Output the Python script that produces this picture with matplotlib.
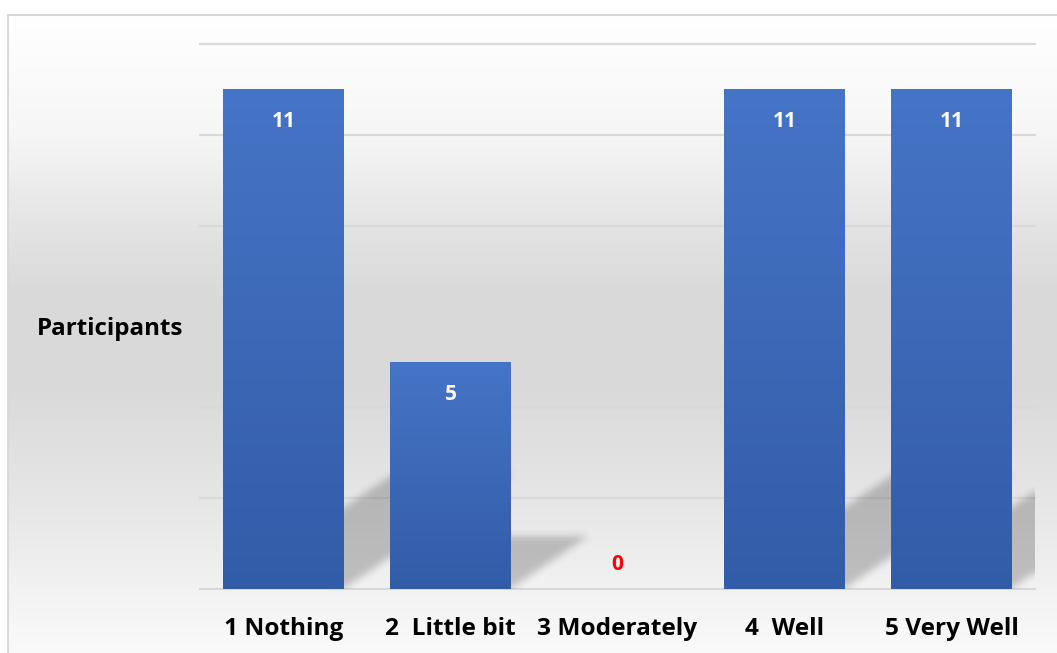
import numpy as np
import matplotlib
matplotlib.use('Agg')
import matplotlib.pyplot as plt
from matplotlib.colors import LinearSegmentedColormap
from matplotlib.path import Path
from matplotlib.patches import Rectangle

# ---------------- data ----------------
categories = ['1 Nothing', '2  Little bit', '3 Moderately', '4  Well', '5 Very Well']
participants = [11, 5, 0, 11, 11]
y_ticks = [0, 2, 4, 6, 8, 10, 12]
y_label = 'Participants'

plt.rcParams['font.family'] = ['Open Sans', 'DejaVu Sans']

W, H = 1057, 653
fig = plt.figure(figsize=(W / 100, H / 100), dpi=100)
fig.patch.set_facecolor('white')

# ---------------- background panel (vertical gradient) ----------------
bg_left, bg_top = 8 / W, 1 - 15 / H
bg_ax = fig.add_axes([bg_left, 0, 1 - bg_left + 0.01, bg_top], zorder=0)
stops_px = [15, 135, 225, 290, 380, 430, 540, 589, 653]
stop_vals = [255, 246, 228, 218, 217, 222, 235, 242, 250]
rows = np.arange(15, 653)
g = np.interp(rows, stops_px, stop_vals) / 255.0
g = np.repeat(g[:, None], 4, axis=1)
bg_ax.imshow(np.dstack([g, g, g]), aspect='auto', extent=[0, 1, 0, 1],
             interpolation='bilinear')
bg_ax.axis('off')
fig.patches.append(Rectangle((bg_left, -0.1), 1.0, bg_top + 0.1, transform=fig.transFigure,
                             fill=False, edgecolor='#d9d9d9', linewidth=1.5, zorder=1))

# ---------------- main axes ----------------
ax = fig.add_axes([200 / W, (H - 589) / H, 835 / W, 545 / H], zorder=2)
ax.patch.set_visible(False)
for s in ax.spines.values():
    s.set_visible(False)

x = np.arange(len(categories))
for yt in y_ticks:
    ax.axhline(yt, color='#d9d9d9', linewidth=1.5, zorder=1, clip_on=False)

bars = ax.bar(x, participants, width=0.72, color='#4472c4', zorder=3)

# bar gradients
bar_cmap = LinearSegmentedColormap.from_list('bar', ['#335ca8', '#4674c6'])
grad = np.linspace(1, 0, 256)[:, None]
for b, v in zip(bars, participants):
    if v <= 0:
        continue
    x0 = b.get_x()
    x1 = x0 + b.get_width()
    im = ax.imshow(grad, cmap=bar_cmap, aspect='auto', extent=[x0, x1, 0, v],
                   zorder=3.5, interpolation='bilinear')
    im.set_clip_path(b)

# cast shadows
nx, ny = 835, 545
xs = np.linspace(-0.5, 4.5, nx)
ys = np.linspace(12, 0, ny)
XX, YY = np.meshgrid(xs, ys)
pts = np.column_stack([XX.ravel(), YY.ravel()])
mask = np.zeros(nx * ny)
for b, v in zip(bars, participants):
    if v <= 0:
        continue
    x0 = b.get_x()
    x1 = x0 + b.get_width()
    dx = 0.0925 * v
    dy = 0.23 * v
    path = Path([(x0, 0), (x1, 0), (x1 + dx, dy), (x0 + dx, dy), (x0, 0)])
    mask = np.maximum(mask, path.contains_points(pts).astype(float))
mask = mask.reshape(ny, nx)


def box_blur(a, r, axis):
    k = 2 * r + 1
    pw = [(0, 0), (0, 0)]
    pw[axis] = (r + 1, r)
    p = np.pad(a, pw, mode='edge')
    c = np.cumsum(p, axis=axis)
    if axis == 0:
        return (c[k:] - c[:-k]) / k
    return (c[:, k:] - c[:, :-k]) / k


for _ in range(2):
    mask = box_blur(mask, 4, 0)
    mask = box_blur(mask, 4, 1)

rgba = np.zeros((ny, nx, 4))
rgba[..., 3] = 0.21 * mask
ax.imshow(rgba, extent=(-0.5, 4.5, 0, 12), aspect='auto', zorder=2,
          interpolation='nearest')

# value labels
for b, v in zip(bars, participants):
    cx = b.get_x() + b.get_width() / 2
    if v > 0:
        ax.annotate(str(v), (cx, v), xytext=(0, -27.4), textcoords='offset points',
                    ha='center', va='baseline', color='white', fontsize=15,
                    fontweight='bold', zorder=5)
    else:
        ax.annotate(str(v), (cx, v), xytext=(0, 13.7), textcoords='offset points',
                    ha='center', va='baseline', color='#ff0000', fontsize=15,
                    fontweight='bold', zorder=5)

ax.set_xlim(-0.5, 4.5)
ax.set_ylim(0, 12)
ax.set_yticks(y_ticks)
ax.tick_params(axis='y', length=0, labelleft=False)
ax.set_xticks(x, categories)
ax.tick_params(axis='x', length=0, pad=33.1)
for lbl in ax.get_xticklabels():
    lbl.set_fontsize(17.6)
    lbl.set_fontweight('bold')
    lbl.set_va('baseline')
    lbl.set_color('black')

ax.set_ylabel(y_label, rotation=0, fontsize=17.4, fontweight='bold',
              va='baseline', ha='center')
ax.yaxis.set_label_coords((110 - 200) / 835, (589 - 335) / 545)

fig.savefig('out.png', dpi=100)
